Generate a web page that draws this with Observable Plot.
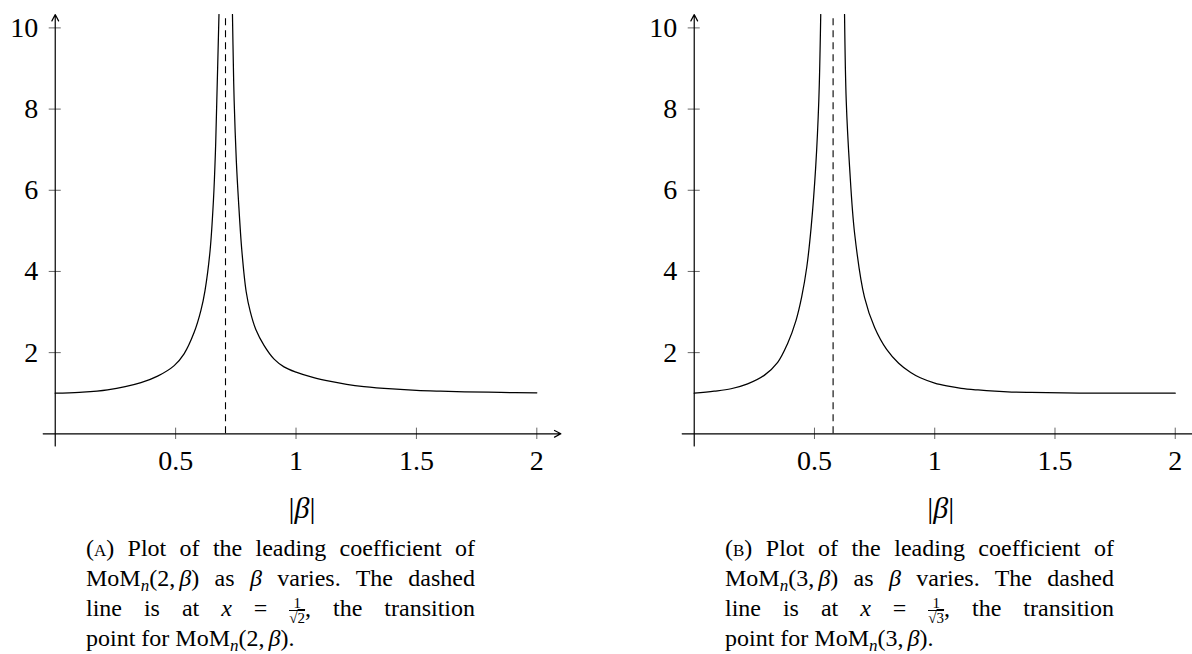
<!DOCTYPE html>
<html>
<head>
<meta charset="utf-8">
<script src="https://cdn.jsdelivr.net/npm/d3@7"></script>
<script src="https://cdn.jsdelivr.net/npm/@observablehq/plot@0.6"></script>
<style>
  html, body { margin: 0; padding: 0; background: #fff; }
  body { width: 1192px; height: 654px; overflow: hidden; position: relative;
         font-family: 'Liberation Serif', 'Times New Roman', serif; color: #000; }
  .panel { position: absolute; top: 0; width: 580px; }
  .panel svg { max-width: none !important; }
  .cap { position: absolute; top: 533px; width: 389px; font-size: 24px; }
  .ln { height: 30px; line-height: 30px; white-space: nowrap; }
  .sc { font-variant: small-caps; }
  .sub { font-style: italic; font-size: 17px; position: relative; top: 5px; }
  .th { display: inline-block; width: 4px; }
  .frac { display: inline-block; font-size: 15px; line-height: 14px; text-align: center; vertical-align: -7px; }
  .frac .num { display: block; border-bottom: 1.3px solid #000; padding: 0 2px; }
  .frac .den { display: block; }
  .ov { text-decoration: overline; }
</style>
</head>
<body>
<div id="pa" class="panel" style="left:0px"></div>
<div id="pb" class="panel" style="left:638.6px"></div>

<div class="cap" style="left:86px">
  <div class="ln j"><span class="in">(<span class="sc">a</span>) Plot of the leading coefficient of</span></div>
  <div class="ln j"><span class="in">MoM<span class="sub">n</span>(2,<span class="th"></span><i>β</i>) as <i>β</i> varies. The dashed</span></div>
  <div class="ln j"><span class="in">line is at <i>x</i> = <span class="frac"><span class="num">1</span><span class="den">√<span class="ov">2</span></span></span>, the transition</span></div>
  <div class="ln"><span class="in">point for MoM<span class="sub">n</span>(2,<span class="th"></span><i>β</i>).</span></div>
</div>
<div class="cap" style="left:725px">
  <div class="ln j"><span class="in">(<span class="sc">b</span>) Plot of the leading coefficient of</span></div>
  <div class="ln j"><span class="in">MoM<span class="sub">n</span>(3,<span class="th"></span><i>β</i>) as <i>β</i> varies. The dashed</span></div>
  <div class="ln j"><span class="in">line is at <i>x</i> = <span class="frac"><span class="num">1</span><span class="den">√<span class="ov">3</span></span></span>, the transition</span></div>
  <div class="ln"><span class="in">point for MoM<span class="sub">n</span>(3,<span class="th"></span><i>β</i>).</span></div>
</div>

<script>
// ---- data ----
const xTicks = [0.5, 1, 1.5, 2];
const yTicks = [2, 4, 6, 8, 10];
const xDomain = [-0.05, 2.1];
const yDomain = [-0.3, 10.33];

// Panel A: MoM_n(2, beta)
const transitionA = 0.7071;
const betaA_left  = [0, 0.10, 0.217, 0.356, 0.425, 0.494, 0.535, 0.577, 0.605, 0.622, 0.643, 0.657, 0.665, 0.671, 0.680];
const valueA_left = [1.00, 1.02, 1.08, 1.26, 1.42, 1.68, 1.97, 2.50, 3.04, 3.53, 4.51, 5.75, 6.90, 8.21, 10.33];
const betaA_right  = [0.736, 0.740, 0.743, 0.752, 0.761, 0.775, 0.793, 0.810, 0.833, 0.867, 0.909, 0.950, 1.0, 1.07, 1.144, 1.21, 1.282, 1.4, 1.5, 1.6, 1.7, 1.85, 2.0];
const valueA_right = [10.33, 9.0, 8.21, 6.73, 5.75, 4.51, 3.50, 3.01, 2.57, 2.18, 1.84, 1.65, 1.52, 1.39, 1.29, 1.22, 1.165, 1.105, 1.07, 1.05, 1.035, 1.02, 1.01];

// Panel B: MoM_n(3, beta)
const transitionB = 0.5774;
const betaB_left  = [0, 0.083, 0.153, 0.222, 0.291, 0.347, 0.388, 0.423, 0.447, 0.468, 0.486, 0.505, 0.518, 0.526];
const valueB_left = [1.00, 1.05, 1.11, 1.23, 1.44, 1.76, 2.22, 2.79, 3.38, 4.11, 5.08, 6.57, 8.21, 10.33];
const betaB_right  = [0.625, 0.632, 0.646, 0.667, 0.708, 0.75, 0.80, 0.85, 0.90, 0.94, 1.0, 1.05, 1.11, 1.18, 1.25, 1.32, 1.4, 1.6, 2.0];
const valueB_right = [10.33, 8.21, 6.57, 4.93, 3.36, 2.62, 2.08, 1.74, 1.51, 1.38, 1.25, 1.18, 1.12, 1.08, 1.05, 1.03, 1.02, 1.005, 1.00];

const axisLabel = "|β|";

// ---- build tables ----
function rows(bl, vl, br, vr) {
  return bl.map((b, i) => ({beta: b, value: vl[i], branch: "left"}))
    .concat(br.map((b, i) => ({beta: b, value: vr[i], branch: "right"})));
}
const dataA = rows(betaA_left, valueA_left, betaA_right, valueA_right);
const dataB = rows(betaB_left, valueB_left, betaB_right, valueB_right);

const FONT = "'Liberation Serif', 'Times New Roman', serif";

function panel(data, transition, marginRight) {
  const fmt = d => String(d);
  const chart = Plot.plot({
    width: 580, height: 530,
    marginLeft: 42.7, marginRight: marginRight, marginTop: 14, marginBottom: 84.5,
    x: {domain: xDomain, axis: null},
    y: {domain: yDomain, axis: null},
    style: {fontFamily: FONT, background: "transparent", overflow: "visible", color: "#000", maxWidth: "none"},
    marks: [
      Plot.ruleX(xTicks, {x: d => d, y1: -0.14, y2: 0.14, stroke: "#666", strokeWidth: 1}),
      Plot.ruleY(yTicks, {y: d => d, x1: -0.025, x2: 0.025, stroke: "#666", strokeWidth: 1}),
      Plot.arrow([0], {x1: xDomain[0], y1: 0, x2: xDomain[1], y2: 0, stroke: "#000", strokeWidth: 1.2, headLength: 9, headAngle: 55}),
      Plot.arrow([0], {x1: 0, y1: yDomain[0], x2: 0, y2: yDomain[1], stroke: "#000", strokeWidth: 1.2, headLength: 9, headAngle: 55}),
      Plot.ruleX([transition], {x: d => d, y1: 0, y2: yDomain[1], stroke: "#000", strokeWidth: 1.1, strokeDasharray: "7,5"}),
      Plot.line(data, {x: "beta", y: "value", z: "branch", curve: "catmull-rom", stroke: "#000", strokeWidth: 1.25, clip: true}),
      Plot.text(xTicks, {x: d => d, y: 0, text: fmt, dy: 27, fontSize: 28, fill: "#000"}),
      Plot.text(yTicks, {x: 0, y: d => d, text: fmt, dx: -17, textAnchor: "end", fontSize: 28, fill: "#000"}),
      Plot.text([axisLabel], {text: d => d, frameAnchor: "bottom", dy: 72, fontSize: 30, fill: "#000", className: "xlabel"})
    ]
  });
  chart.querySelectorAll(".xlabel text").forEach(t => {
    t.innerHTML = '|<tspan font-style="italic">β</tspan>|';
  });
  return chart;
}

document.getElementById("pa").appendChild(panel(dataA, transitionA, 19.6));
document.getElementById("pb").appendChild(panel(dataB, transitionB, 20.2));

// justify caption lines to the caption width (like the LaTeX paragraph)
document.querySelectorAll(".ln.j").forEach(ln => {
  const inner = ln.querySelector(".in");
  const w = inner.getBoundingClientRect().width;
  const spaces = (inner.textContent.match(/ /g) || []).length;
  const target = ln.parentNode.getBoundingClientRect().width;
  if (spaces > 0) inner.style.wordSpacing = ((target - w) / spaces) + "px";
});
</script>
</body>
</html>
